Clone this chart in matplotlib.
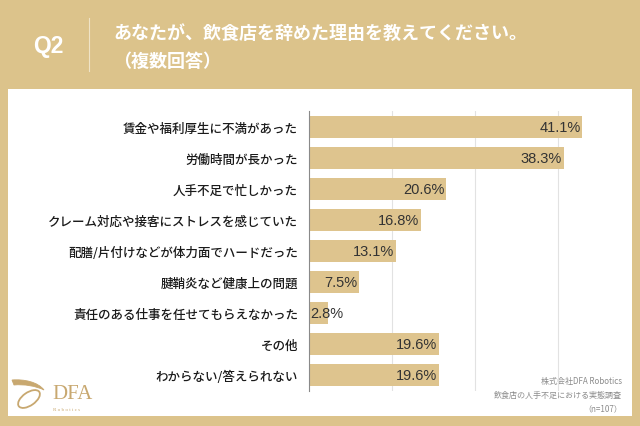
import matplotlib
matplotlib.use("Agg")
import matplotlib.pyplot as plt
from matplotlib.patches import Rectangle, PathPatch, Ellipse
from matplotlib.path import Path

plt.rcParams["font.family"] = ["Noto Sans CJK JP", "DejaVu Sans"]

W, H = 640, 427
GOLD = "#dcc38b"
BAR = "#dec48e"
LOGO = "#c8a870"

question = "Q2"
title_lines = ["あなたが、飲食店を辞めた理由を教えてください。", "（複数回答）"]
categories = [
    "賃金や福利厚生に不満があった",
    "労働時間が長かった",
    "人手不足で忙しかった",
    "クレーム対応や接客にストレスを感じていた",
    "配膳/片付けなどが体力面でハードだった",
    "腱鞘炎など健康上の問題",
    "責任のある仕事を任せてもらえなかった",
    "その他",
    "わからない/答えられない",
]
values = [41.1, 38.3, 20.6, 16.8, 13.1, 7.5, 2.8, 19.6, 19.6]
grid_ticks = [12.5, 25, 37.5]
source_lines = ["株式会社DFA Robotics", "飲食店の人手不足における実態調査", "（n=107）"]

fig = plt.figure(figsize=(W / 100, H / 100), dpi=100, facecolor=GOLD)

# background layer in pixel coordinates (header, panel, notes, logo)
bg = fig.add_axes([0, 0, 1, 1])
bg.set_xlim(0, W)
bg.set_ylim(H, 0)
bg.axis("off")
bg.set_zorder(0)
bg.add_patch(Rectangle((7.5, 90), 624.5, 327, facecolor="white", edgecolor="none"))

bg.text(48, 47, question, color="white", fontsize=16.5, fontweight="bold",
        family=["Liberation Sans"], ha="center", va="center")
bg.plot([89, 89], [19, 72], color="#efe3c6", lw=0.8)
bg.text(113, 33, title_lines[0], color="white", fontsize=13, fontweight="bold",
        ha="left", va="center")
bg.text(113, 61, title_lines[1], color="white", fontsize=13, fontweight="bold",
        ha="left", va="center")

for i, line in enumerate(source_lines):
    bg.text(622, 382 + 13.5 * i, line, fontsize=5.8, color="#8c8c8c",
            ha="right", va="center")

# logo: wing stroke + loop
wing = Path(
    [(12, 381), (24, 380), (38, 383), (44, 391),
     (36, 387), (24, 385), (14, 386), (12, 381)],
    [Path.MOVETO, Path.CURVE4, Path.CURVE4, Path.CURVE4,
     Path.CURVE4, Path.CURVE4, Path.CURVE4, Path.CLOSEPOLY])
bg.add_patch(PathPatch(wing, facecolor=LOGO, edgecolor=LOGO, lw=0.6))
bg.add_patch(Ellipse((29, 400), 25, 13, angle=-35, facecolor="none",
                     edgecolor=LOGO, lw=1.3))
bg.text(52, 395, "DFA", fontsize=15, color=LOGO, family=["Liberation Serif"],
        ha="left", va="center")
bg.text(53, 410, "R o b o t i c s", fontsize=3.6, color=LOGO,
        family=["Liberation Serif"], ha="left", va="center")

# chart
ax = fig.add_axes([309 / W, 1 - 392 / H, (632 - 309) / W, (392 - 112) / H])
ax.set_zorder(2)
ax.set_facecolor("none")
ypos = list(range(len(categories)))
ax.barh(ypos, values, height=0.68, color=BAR, zorder=2)
ax.set_xlim(0, 48.6)
ax.set_ylim(len(categories) - 0.484, -0.516)
ax.set_xticks(grid_ticks)
ax.set_xticklabels([])
ax.grid(axis="x", color="#e2e2e2", lw=0.8, zorder=1)
ax.set_axisbelow(True)
ax.set_yticks(ypos)
ax.set_yticklabels(categories, fontsize=9, fontweight="medium", color="#1a1a1a")
ax.tick_params(length=0, pad=8)
for s in ["top", "right", "bottom"]:
    ax.spines[s].set_visible(False)
ax.spines["left"].set_color("#8a8a8a")
ax.spines["left"].set_linewidth(0.8)
ax.spines["left"].set_zorder(3)

for y, v in zip(ypos, values):
    if v < 5:
        ax.text(0.25, y, f"{v}%", ha="left", va="center", fontsize=10.5,
                color="#333333", family=["Liberation Sans"], zorder=4)
    else:
        ax.text(v - 0.25, y, f"{v}%", ha="right", va="center", fontsize=10.5,
                color="#333333", family=["Liberation Sans"], zorder=4)

fig.savefig("out.png", dpi=100, facecolor=GOLD)
